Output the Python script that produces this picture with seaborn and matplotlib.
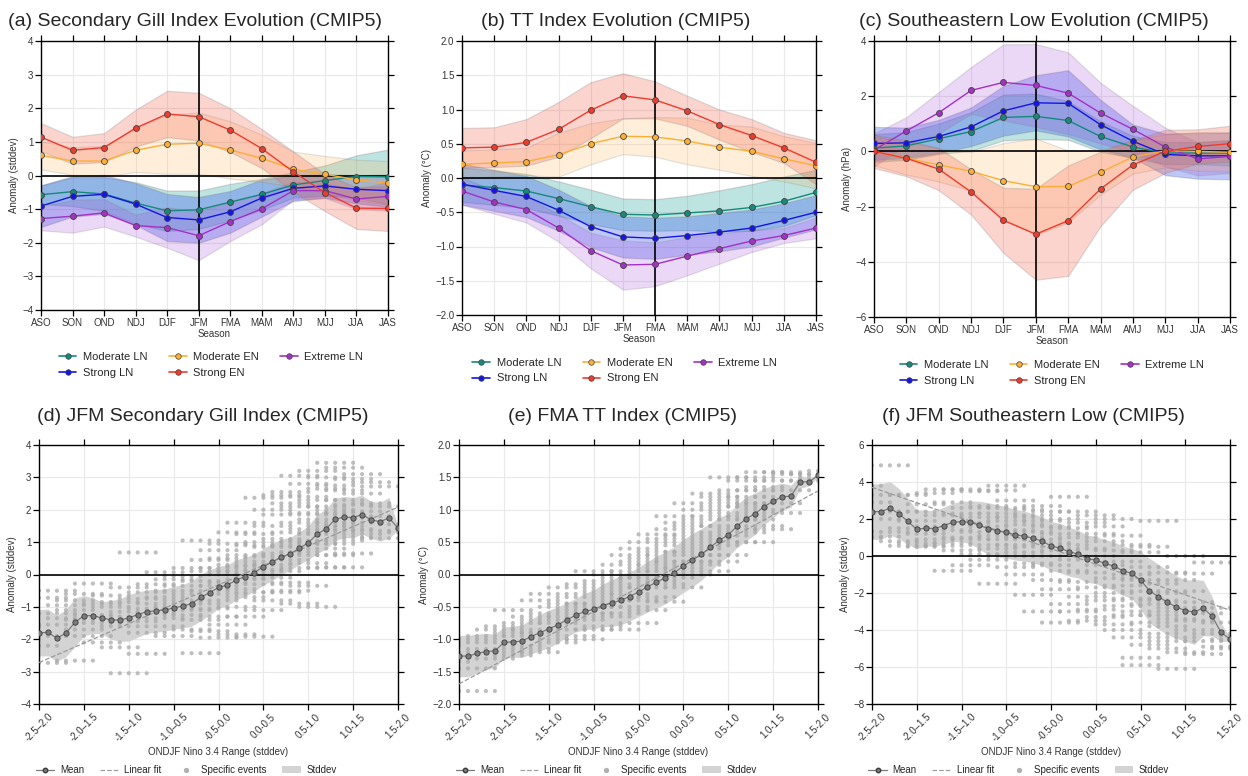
import numpy as np
import pandas as pd
import matplotlib
matplotlib.use("Agg")
import matplotlib.pyplot as plt
import seaborn as sns
from matplotlib.lines import Line2D
from matplotlib.patches import Patch

# ---------------- data: seasonal evolution (top row) ----------------
seasons = ['ASO', 'SON', 'OND', 'NDJ', 'DJF', 'JFM', 'FMA', 'MAM', 'AMJ', 'MJJ', 'JJA', 'JAS']

# (a) Secondary Gill index
gill_mod_ln = [-0.57, -0.48, -0.55, -0.82, -1.05, -1.02, -0.79, -0.56, -0.28, -0.15, -0.03, -0.04]
gill_mod_ln_sd = [0.27, 0.43, 0.5, 0.62, 0.6, 0.57, 0.54, 0.46, 0.38, 0.45, 0.63, 0.81]
gill_str_ln = [-0.91, -0.62, -0.56, -0.85, -1.25, -1.32, -1.08, -0.67, -0.38, -0.31, -0.41, -0.45]
gill_str_ln_sd = [0.62, 0.6, 0.58, 0.62, 0.7, 0.68, 0.62, 0.55, 0.38, 0.35, 0.42, 0.48]
gill_ext_ln = [-1.28, -1.21, -1.11, -1.49, -1.55, -1.79, -1.37, -0.99, -0.45, -0.45, -0.70, -0.62]
gill_ext_ln_sd = [0.35, 0.49, 0.41, 0.33, 0.6, 0.73, 0.58, 0.46, 0.27, 0.22, 0.3, 0.43]
gill_mod_en = [0.60, 0.43, 0.43, 0.75, 0.93, 0.96, 0.76, 0.51, 0.19, 0.04, -0.13, -0.22]
gill_mod_en_sd = [0.42, 0.41, 0.45, 0.65, 0.88, 0.91, 0.85, 0.7, 0.52, 0.54, 0.6, 0.65]
gill_str_en = [1.14, 0.75, 0.83, 1.41, 1.83, 1.75, 1.35, 0.80, 0.11, -0.51, -0.97, -0.98]
gill_str_en_sd = [0.42, 0.4, 0.43, 0.55, 0.69, 0.71, 0.65, 0.58, 0.6, 0.55, 0.62, 0.67]

# (b) TT index
tt_mod_ln = [-0.10, -0.14, -0.19, -0.30, -0.42, -0.53, -0.54, -0.51, -0.48, -0.43, -0.34, -0.21]
tt_mod_ln_sd = [0.25, 0.25, 0.25, 0.25, 0.25, 0.23, 0.23, 0.25, 0.3, 0.34, 0.36, 0.33]
tt_str_ln = [-0.09, -0.18, -0.27, -0.47, -0.71, -0.86, -0.88, -0.84, -0.79, -0.73, -0.62, -0.50]
tt_str_ln_sd = [0.3, 0.3, 0.3, 0.3, 0.3, 0.3, 0.3, 0.28, 0.28, 0.27, 0.25, 0.25]
tt_ext_ln = [-0.19, -0.35, -0.46, -0.73, -1.06, -1.27, -1.26, -1.14, -1.03, -0.92, -0.84, -0.73]
tt_ext_ln_sd = [0.2, 0.17, 0.19, 0.2, 0.26, 0.36, 0.32, 0.28, 0.22, 0.16, 0.11, 0.15]
tt_mod_en = [0.20, 0.22, 0.24, 0.34, 0.50, 0.61, 0.60, 0.54, 0.45, 0.39, 0.28, 0.18]
tt_mod_en_sd = [0.2, 0.2, 0.2, 0.32, 0.3, 0.26, 0.29, 0.34, 0.33, 0.36, 0.33, 0.33]
tt_str_en = [0.44, 0.45, 0.52, 0.71, 0.99, 1.20, 1.14, 0.98, 0.78, 0.62, 0.44, 0.23]
tt_str_en_sd = [0.29, 0.29, 0.34, 0.4, 0.41, 0.33, 0.27, 0.22, 0.22, 0.24, 0.22, 0.32]

# (c) Southeastern low
sel_mod_ln = [0.12, 0.20, 0.46, 0.72, 1.23, 1.27, 1.12, 0.54, 0.16, -0.06, -0.06, -0.06]
sel_mod_ln_sd = [0.5, 0.5, 0.55, 0.7, 0.83, 0.82, 0.7, 0.55, 0.4, 0.4, 0.4, 0.45]
sel_str_ln = [0.29, 0.31, 0.54, 0.89, 1.47, 1.76, 1.74, 0.97, 0.37, -0.11, -0.16, -0.16]
sel_str_ln_sd = [0.6, 0.55, 0.6, 0.7, 0.9, 1.0, 1.2, 0.9, 0.6, 0.75, 0.83, 0.85]
sel_ext_ln = [0.05, 0.74, 1.40, 2.21, 2.50, 2.39, 2.11, 1.39, 0.80, 0.16, -0.27, -0.18]
sel_ext_ln_sd = [0.6, 0.5, 0.75, 0.85, 1.38, 1.5, 1.48, 1.1, 0.85, 0.7, 0.6, 0.6]
sel_mod_en = [0.0, -0.24, -0.49, -0.72, -1.06, -1.28, -1.27, -0.76, -0.20, 0.02, 0.0, -0.03]
sel_mod_en_sd = [0.5, 0.6, 0.6, 0.7, 1.36, 1.75, 1.3, 0.8, 0.6, 0.6, 0.7, 0.7]
sel_str_en = [0.0, -0.25, -0.64, -1.47, -2.50, -3.00, -2.51, -1.36, -0.49, 0.0, 0.18, 0.28]
sel_str_en_sd = [0.6, 0.65, 0.77, 0.82, 1.18, 1.65, 2.0, 1.35, 0.9, 0.78, 0.62, 0.65]

# ---------------- data: Nino 3.4 sliding windows (bottom row) ----------------
range_labels = ['-2.5–2.0', '-2.0–1.5', '-1.5–1.0', '-1.0–0.5', '-0.5-0.0',
                '0.0-0.5', '0.5-1.0', '1.0-1.5', '1.5-2.0']

gill_mean = [-1.80, -1.79, -1.97, -1.81, -1.48, -1.27, -1.27, -1.34, -1.40, -1.41,
             -1.34, -1.24, -1.15, -1.12, -1.10, -1.03, -0.98, -0.90, -0.71, -0.56,
             -0.40, -0.33, -0.16, -0.07, 0.06, 0.24, 0.39, 0.54, 0.64, 0.81,
             0.98, 1.25, 1.41, 1.71, 1.77, 1.76, 1.85, 1.69, 1.63, 1.75, 1.43]
gill_std = [0.72, 0.72, 0.71, 0.73, 0.75, 0.62, 0.55, 0.49, 0.6, 0.65,
            0.72, 0.7, 0.67, 0.66, 0.65, 0.66, 0.67, 0.7, 0.72, 0.7,
            0.65, 0.63, 0.62, 0.6, 0.57, 0.57, 0.57, 0.55, 0.51, 0.5,
            0.52, 0.6, 0.62, 0.65, 0.64, 0.62, 0.6, 0.57, 0.6, 0.63, 0.05]
tt_mean = [-1.26, -1.26, -1.22, -1.19, -1.18, -1.05, -1.04, -1.03, -0.96, -0.90,
           -0.84, -0.78, -0.70, -0.63, -0.57, -0.54, -0.48, -0.44, -0.40, -0.34,
           -0.27, -0.19, -0.12, -0.05, 0.03, 0.13, 0.22, 0.31, 0.42, 0.53,
           0.61, 0.75, 0.86, 0.94, 1.05, 1.13, 1.20, 1.21, 1.43, 1.43, 1.53]
tt_std = [0.32, 0.32, 0.3, 0.28, 0.26, 0.24, 0.24, 0.25, 0.27, 0.28,
          0.29, 0.28, 0.26, 0.26, 0.28, 0.3, 0.33, 0.36, 0.38, 0.38,
          0.38, 0.39, 0.4, 0.4, 0.4, 0.41, 0.41, 0.4, 0.37, 0.35,
          0.33, 0.33, 0.34, 0.32, 0.28, 0.25, 0.21, 0.17, 0.1, 0.06, 0.02]
sel_mean = [2.40, 2.40, 2.58, 2.29, 1.87, 1.44, 1.51, 1.48, 1.64, 1.82,
            1.86, 1.82, 1.66, 1.48, 1.37, 1.28, 1.15, 1.08, 0.95, 0.81,
            0.54, 0.43, 0.23, 0.11, -0.14, -0.22, -0.40, -0.54, -0.79, -0.94,
            -1.30, -1.87, -2.20, -2.50, -2.76, -2.95, -3.03, -2.81, -3.26, -4.13, -4.49]
sel_std = [1.5, 1.5, 1.45, 1.35, 1.25, 1.05, 0.98, 0.95, 1.0, 1.03,
           1.1, 1.15, 1.3, 1.4, 1.4, 1.39, 1.37, 1.35, 1.33, 1.31,
           1.32, 1.34, 1.32, 1.29, 1.28, 1.27, 1.29, 1.31, 1.33, 1.35,
           1.55, 1.75, 1.75, 1.74, 1.7, 1.65, 1.75, 1.5, 1.06, 0.5, 0.1]

# linear fit (intercept at first window, slope per window)
fit_intercept = [-2.72, -1.69, 3.71]
fit_slope = [0.12, 0.0745, -0.166]

# individual events, grouped by 0.1-wide Nino bins (each bin shows in 5 windows)
gill_events = [
    [-1.6, -2.0], [-1.78], [-2.2], [-0.72, -2.73, -1.9], [-0.5, -1.2, -1.55],
    [-0.95, -1.35], [-2.66, -1.1, -0.8], [-1.4, -1.7, -0.6], [-0.28, -1.25, -1.9],
    [-0.9, -1.5, -2.1], [-1.0, -1.3, -0.65], [-2.25, -1.6, -0.85], [-3.05, -1.15, -0.4],
    [0.68, -1.45, -0.75], [-2.45, -1.05, -0.55, -1.8], [-0.3, -1.2, -0.9],
    [0.07, -1.6, -0.7, -1.35], [-0.15, -1.0, -1.9, -0.5], [-0.35, -1.25, -0.8, -0.05],
    [-0.6, -1.7, 0.2, -1.1], [1.05, -2.43, -0.9, -0.2, -1.4], [0.45, -1.75, -0.5, 0.1, -1.05],
    [-0.35, 0.75, -1.3, -0.8, 0.2, -1.95], [0.0, -0.6, 0.95, -1.55, -0.25, 0.5],
    [1.3, -0.45, 0.3, -1.0, -1.85, 0.1], [0.6, -0.15, -0.7, 1.6, -1.3, 0.25],
    [-1.92, 0.9, 0.0, -0.55, 0.4, 1.25], [2.37, -0.3, 0.55, -1.1, 1.0, 0.15],
    [1.5, 0.3, -0.8, 0.85, 2.0, -0.1], [0.65, -0.55, 1.85, 1.1, 0.1, 2.45],
    [1.3, 0.45, -0.25, 2.2, 0.9, 2.55, -0.5], [3.05, 1.6, 0.2, 1.0, 2.1, -0.9, 0.7],
    [2.8, 0.35, 1.4, -0.35, 1.9, 1.05, 2.4], [-1.0, 3.2, 0.6, 1.7, 2.3, 0.95, 1.25],
    [0.22, 2.65, 1.5, 3.0, 1.85, 0.8, 2.1], [3.45, 2.0, 0.95, 1.35, 2.75, 1.6, 0.6],
    [3.3, 2.3, 1.05, 1.9, 0.22, 1.5, 2.6], [1.4, 2.95, 1.75, 2.15, 1.15, 0.65],
    [2.5, 1.25, 3.1, 1.95, 1.6], [1.8, 2.85, 1.35, 2.2], [2.72, 1.12], [2.1], [1.55],
    [1.3], [1.45],
]
tt_events = [
    [-1.25, -1.1], [-1.35], [-1.05], [-1.2], [-1.8, -1.0, -1.45], [-1.15, -0.95],
    [-1.3, -0.85], [-1.05, -0.8, -1.2], [-0.9, -1.25, -0.55], [-0.75, -1.1, -0.95],
    [-0.65, -1.15, -0.85], [-0.4, -0.9, -1.2, -0.7], [-0.6, -1.0, -0.3],
    [-0.75, -0.5, -1.05], [-0.2, -0.85, -0.45, -0.65], [-0.55, -0.35, -0.95],
    [-1.0, -0.15, -0.7, -0.45], [0.05, -0.6, -0.3, -0.85], [-0.1, -0.5, -0.25, -0.8],
    [-0.4, 0.0, -0.65, -0.2], [0.15, -0.35, -0.6, -0.05, -0.85], [-0.3, 0.05, -0.5, 0.3, -0.15],
    [-0.05, 0.4, -0.4, -0.75, 0.2], [0.1, -0.2, 0.5, -0.55, 0.25], [0.62, -0.1, 0.15, -0.35, 0.35],
    [-0.42, 0.3, 0.05, 0.55, -0.15], [0.9, 0.2, -0.05, 0.45, 0.7], [0.35, 0.1, 0.6, -0.2, 0.8],
    [1.1, 0.5, 0.2, 0.75, 0.0], [0.4, 0.65, 1.0, 0.15, 0.85], [1.25, 0.55, 0.3, 0.9, 0.05],
    [0.75, 1.05, 0.45, 0.2, 1.2], [1.5, 0.6, 0.95, 0.3, 1.15], [0.85, 1.3, 0.5, 1.1, 0.7],
    [1.45, 0.9, 1.2, 0.65, 1.05], [1.5, 0.5, 1.3, 0.85, 1.1], [1.58, 1.0, 1.35, 0.75],
    [1.2, 0.7, 1.45], [1.58, 1.1, 0.95], [1.55, 1.3], [1.45], [1.55], [1.5], [1.6], [1.55],
]
sel_events = [
    [2.4, 1.35], [1.0, 3.8], [2.9], [1.05, 2.0], [4.9, 1.3, 3.3], [0.8, 2.4],
    [3.3, 0.55, 1.5], [2.4, 0.7, 1.9], [0.5, 2.8, 1.2], [3.4, 0.9, 1.6], [0.55, 2.2, 3.6],
    [-0.8, 1.4, 2.9, 0.7], [3.6, 1.0, 2.3, 0.3], [-0.5, 1.8, 2.6, 0.9], [3.5, 0.1, 1.3, 2.1],
    [0.6, 2.7, 1.6, -0.2], [-1.5, 3.55, 1.1, 2.3, 0.4], [3.8, 0.0, 1.9, 0.9, 2.6],
    [1.4, -0.6, 2.1, 0.6, 3.0], [0.2, 2.5, 1.0, -1.0, 1.7], [-2.1, 1.3, 0.5, 2.2, -0.4],
    [-3.0, 1.9, 0.0, 0.9, 2.7], [0.7, -1.3, 1.6, -0.5, 2.4], [-3.6, 0.3, 1.2, -1.8, 2.0],
    [3.2, -0.8, 0.6, -2.6, 1.5], [-0.2, 1.0, -1.4, 2.4, -3.0], [1.8, -0.9, 0.4, -2.2, -3.5],
    [0.0, -1.7, 1.2, -2.9, 2.2], [-0.5, -2.4, 0.8, -3.3, 1.6], [-1.2, 0.3, -2.0, -3.7, 2.0],
    [-2.7, -0.3, 1.1, -1.6, -4.0], [0.6, -2.3, -3.2, -1.0, -4.4],
    [-5.5, -5.9, -1.9, 0.2, -3.0, -1.3], [-2.6, -4.8, -0.6, -3.6, 0.5],
    [1.9, -3.2, -1.5, -4.2, -2.4], [-4.6, -2.0, -0.9, -3.8, -5.0],
    [-6.1, -2.8, -1.3, -4.4, -3.4], [-3.0, -5.2, -1.9, 0.0], [-2.5, -4.0, -0.95, -3.5],
    [-5.3, -3.1, -4.6], [-0.35, -2.8, -4.2], [-4.9, -3.6], [-4.5, -5.0], [-4.3], [-4.6],
]

# ---------------- style ----------------
sns.set_theme(style="ticks")
plt.rcParams['font.family'] = ['Liberation Sans', 'DejaVu Sans']

names = ['Moderate LN', 'Strong LN', 'Extreme LN', 'Moderate EN', 'Strong EN']
legend_order = ['Moderate LN', 'Strong LN', 'Moderate EN', 'Strong EN', 'Extreme LN']
line_colors = {'Moderate LN': '#14897c', 'Strong LN': '#1414e6', 'Extreme LN': '#a331c4',
               'Moderate EN': '#fbae35', 'Strong EN': '#f03b2c'}
band_colors = {'Moderate LN': '#2aa6a0', 'Strong LN': '#3455ee', 'Extreme LN': '#a64ad6',
               'Moderate EN': '#ffb04a', 'Strong EN': '#f4553f'}
band_alpha = {'Moderate LN': 0.3, 'Strong LN': 0.32, 'Extreme LN': 0.22,
              'Moderate EN': 0.2, 'Strong EN': 0.25}

fig = plt.figure(figsize=(12.48, 7.76), dpi=100)
W, H = 1248, 776


def make_axes(l, t, r, b):
    return fig.add_axes([l / W, 1 - b / H, (r - l) / W, (b - t) / H])


def style_axes(ax):
    ax.grid(True, color='#e9e9e9', linewidth=0.8, zorder=0)
    ax.set_axisbelow(True)
    for s in ax.spines.values():
        s.set_color('black')
        s.set_linewidth(1.0)
    ax.tick_params(which='both', top=True, right=True, direction='out', length=4,
                   width=0.9, color='black', labelsize=7, labelcolor='#333333', pad=1.5)


def plot_evolution(ax, series, title, ylabel, ylim, yticks, vline, title_x, leg_x):
    x = np.arange(len(seasons))
    for name in names:
        m, s = np.array(series[name][0]), np.array(series[name][1])
        ax.fill_between(x, m - s, m + s, facecolor=band_colors[name], alpha=band_alpha[name],
                        edgecolor='#7f7f7f', linewidth=0.9, zorder=1)
    ax.axhline(0, color='black', linewidth=1.2, zorder=2)
    ax.axvline(vline, color='black', linewidth=1.2, zorder=2)
    for name in names:
        sns.lineplot(x=x, y=series[name][0], ax=ax, color=line_colors[name], linewidth=1.0,
                     marker='o', markersize=4.3, markeredgecolor='#444444', markeredgewidth=0.6,
                     zorder=3, legend=False)
    ax.set_xlim(0, len(seasons) - 1)
    ax.set_xticks(x)
    ax.set_xticklabels(seasons)
    ax.set_ylim(*ylim)
    ax.set_yticks(yticks)
    ax.set_xlabel('Season', fontsize=7, color='#333333', labelpad=1)
    ax.set_ylabel(ylabel, fontsize=7, color='#333333', labelpad=2)
    ax.set_title(title, fontsize=14, x=title_x, pad=11)
    style_axes(ax)
    handles = [Line2D([0], [0], color=line_colors[n], lw=1.2, marker='o', markersize=4,
                      markeredgecolor='#444444', markeredgewidth=0.5) for n in legend_order]
    ax.legend(handles, legend_order, ncol=3, loc='upper center', bbox_to_anchor=(leg_x, -0.12),
              frameon=False, fontsize=8, handlelength=1.6, columnspacing=1.9,
              handletextpad=0.6, labelspacing=0.5)


def plot_range(ax, mean, std, events, k, title, ylabel, ylim, yticks, title_x):
    cols = np.arange(len(mean))
    m, s = np.array(mean), np.array(std)
    rows = []
    for b, vals in enumerate(events):
        for c in range(max(0, b - 4), min(len(mean) - 1, b) + 1):
            for v in vals:
                rows.append((c, v))
    ev = pd.DataFrame(rows, columns=['window', 'anomaly'])
    ax.fill_between(cols, m - s, m + s, color='#d3d3d3', linewidth=0, zorder=1)
    sns.scatterplot(data=ev, x='window', y='anomaly', ax=ax, color='#a9a9a9', alpha=0.75,
                    s=9, edgecolor='none', zorder=2, legend=False)
    ax.axhline(0, color='black', linewidth=1.2, zorder=3)
    sns.lineplot(x=cols, y=fit_intercept[k] + fit_slope[k] * cols, ax=ax, color='#9a9a9a',
                 linewidth=0.9, linestyle='--', zorder=3, legend=False)
    sns.lineplot(x=cols, y=mean, ax=ax, color='#7a7a7a', linewidth=0.9, marker='o',
                 markersize=3.8, markerfacecolor='#7a7a7a', markeredgecolor='#3c3c3c',
                 markeredgewidth=0.6, zorder=4, legend=False)
    ax.set_xlim(0, len(mean) - 1)
    ax.set_xticks(cols[::5])
    ax.set_xticklabels(range_labels, rotation=45)
    ax.set_ylim(*ylim)
    ax.set_yticks(yticks)
    ax.set_xlabel('ONDJF Nino 3.4 Range (stddev)', fontsize=7, color='#333333', labelpad=2)
    ax.set_ylabel(ylabel, fontsize=7, color='#333333', labelpad=2)
    ax.set_title(title, fontsize=14, x=title_x, pad=17)
    style_axes(ax)
    handles = [Line2D([0], [0], color='#7a7a7a', lw=0.9, marker='o', markersize=3.2,
                      markerfacecolor='#7a7a7a', markeredgecolor='#3c3c3c'),
               Line2D([0], [0], color='#a0a0a0', lw=0.9, linestyle='--'),
               Line2D([0], [0], color='#b0b0b0', lw=0, marker='o', markersize=2.8),
               Patch(facecolor='#d3d3d3', edgecolor='none')]
    ax.legend(handles, ['Mean', 'Linear fit', 'Specific events', 'Stddev'], ncol=4,
              loc='upper center', bbox_to_anchor=(0.41, -0.21), frameon=False, fontsize=7,
              handlelength=1.9, columnspacing=1.6, handletextpad=0.6, borderpad=0.2)


gill_series = {'Moderate LN': (gill_mod_ln, gill_mod_ln_sd), 'Strong LN': (gill_str_ln, gill_str_ln_sd),
               'Extreme LN': (gill_ext_ln, gill_ext_ln_sd), 'Moderate EN': (gill_mod_en, gill_mod_en_sd),
               'Strong EN': (gill_str_en, gill_str_en_sd)}
tt_series = {'Moderate LN': (tt_mod_ln, tt_mod_ln_sd), 'Strong LN': (tt_str_ln, tt_str_ln_sd),
             'Extreme LN': (tt_ext_ln, tt_ext_ln_sd), 'Moderate EN': (tt_mod_en, tt_mod_en_sd),
             'Strong EN': (tt_str_en, tt_str_en_sd)}
sel_series = {'Moderate LN': (sel_mod_ln, sel_mod_ln_sd), 'Strong LN': (sel_str_ln, sel_str_ln_sd),
              'Extreme LN': (sel_ext_ln, sel_ext_ln_sd), 'Moderate EN': (sel_mod_en, sel_mod_en_sd),
              'Strong EN': (sel_str_en, sel_str_en_sd)}

ax_a = make_axes(41, 41, 388, 310)
plot_evolution(ax_a, gill_series, '(a) Secondary Gill Index Evolution (CMIP5)', 'Anomaly (stddev)',
               (-4, 4), np.arange(-4, 5, 1), 5, 0.445, 0.49)
ax_b = make_axes(462, 41, 816, 315)
plot_evolution(ax_b, tt_series, '(b) TT Index Evolution (CMIP5)', 'Anomaly (°C)',
               (-2, 2), np.arange(-2, 2.01, 0.5), 6, 0.435, 0.46)
ax_b.yaxis.set_major_formatter(plt.FuncFormatter(lambda v, _: f'{v:.1f}'.replace('-', '\u2212')))
ax_c = make_axes(874, 41, 1230, 317)
plot_evolution(ax_c, sel_series, '(c) Southeastern Low Evolution (CMIP5)', 'Anomaly (hPa)',
               (-6, 4), np.arange(-6, 5, 2), 5, 0.45, 0.5)

ax_d = make_axes(39, 445, 398, 704)
plot_range(ax_d, gill_mean, gill_std, gill_events, 0, '(d) JFM Secondary Gill Index (CMIP5)',
           'Anomaly (stddev)', (-4, 4), np.arange(-4, 5, 1), 0.455)
ax_e = make_axes(459, 445, 818, 704)
plot_range(ax_e, tt_mean, tt_std, tt_events, 1, '(e) FMA TT Index (CMIP5)',
           'Anomaly (°C)', (-2, 2), np.arange(-2, 2.01, 0.5), 0.455)
ax_e.yaxis.set_major_formatter(plt.FuncFormatter(lambda v, _: f'{v:.1f}'.replace('-', '\u2212')))
ax_f = make_axes(872, 445, 1230, 704)
plot_range(ax_f, sel_mean, sel_std, sel_events, 2, '(f) JFM Southeastern Low (CMIP5)',
           'Anomaly (stddev)', (-8, 6), np.arange(-8, 7, 2), 0.45)

fig.savefig('out.png', dpi=100)
